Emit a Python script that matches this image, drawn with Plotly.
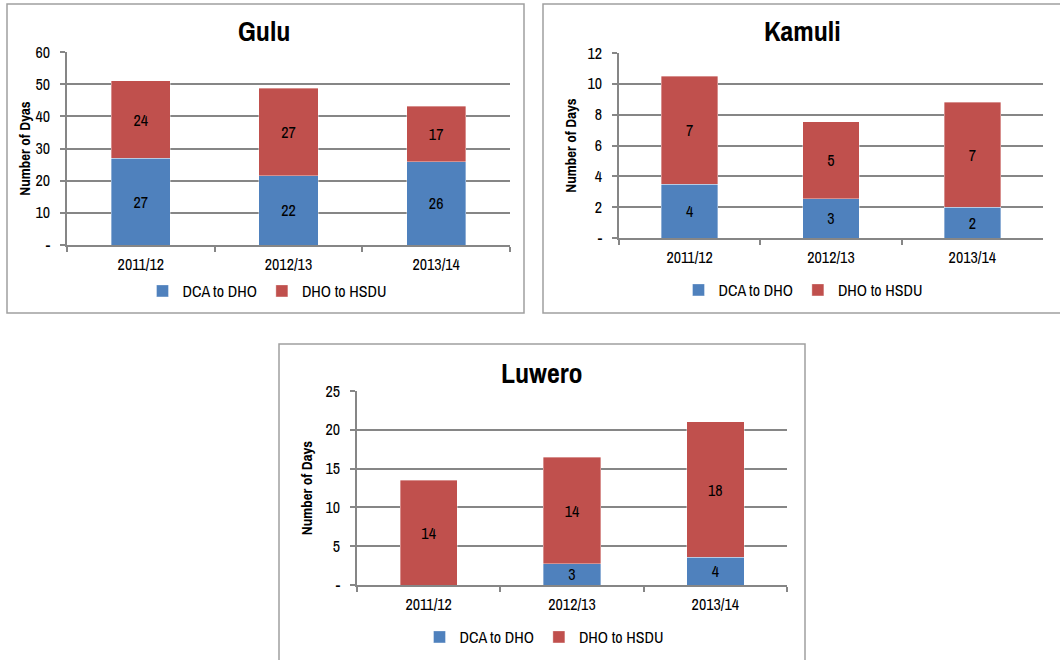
import plotly.graph_objects as go

# ---- data ----
years = ["2011/12", "2012/13", "2013/14"]

gulu_dca = [26.9, 21.6, 25.9]
gulu_dho = [24.1, 27.2, 17.3]

kamuli_dca = [3.5, 2.55, 2.0]
kamuli_dho = [7.0, 5.0, 6.8]

luwero_dca = [0.0, 2.75, 3.55]
luwero_dho = [13.5, 13.7, 17.5]

series_names = ["DCA to DHO", "DHO to HSDU"]
colors = ["#4F81BD", "#C0504D"]

gulu_ticks = [0, 10, 20, 30, 40, 50, 60]
kamuli_ticks = [0, 2, 4, 6, 8, 10, 12]
luwero_ticks = [0, 5, 10, 15, 20, 25]

FONT = ("Liberation Sans Narrow, Arial Narrow, Archivo Narrow, PT Sans Narrow, "
        "Roboto Condensed, Liberation Sans, Arial, sans-serif")
W, H = 1060, 660
FS = 16


def px(x):
    return x / W


def py(y):
    return 1 - y / H


def lab(v):
    return [str(int(x + 0.5)) if x > 0 else "" for x in v]


fig = go.Figure()

panels = [
    ("Gulu", gulu_dca, gulu_dho, gulu_ticks, "", "legend", (67, 510), (52, 245), "Number of Dyas", 0),
    ("Kamuli", kamuli_dca, kamuli_dho, kamuli_ticks, "2", "legend2", (619, 1043), (53, 238), "Number of Days", 7),
    ("Luwero", luwero_dca, luwero_dho, luwero_ticks, "3", "legend3", (357, 787), (391, 585), "Number of Days", 9),
]

for name, dca, dho, ticks, sfx, leg, xd, yd, ytitle, stand in panels:
    for sname, vals, col in zip(series_names, [dca, dho], colors):
        fig.add_trace(go.Bar(
            x=years, y=vals, name=sname,
            marker=dict(color=col, line=dict(width=0.6, color="rgba(255,255,255,0.6)")),
            text=lab(vals), textposition="inside", insidetextanchor="middle",
            textangle=0, constraintext="none",
            textfont=dict(family=FONT, size=FS, color="#000000"),
            xaxis="x" + sfx, yaxis="y" + sfx, legend=leg,
            hoverinfo="x+y+name",
        ))
    fig.layout["xaxis" + sfx] = dict(
        domain=[px(xd[0]), px(xd[1])], anchor="y" + sfx,
        type="category", tickson="boundaries", ticks="outside", ticklen=5,
        tickcolor="#868686", tickwidth=1.5, ticklabelstandoff=4,
        showline=True, linecolor="#868686", linewidth=1.5,
        showgrid=False, tickfont=dict(family=FONT, size=FS, color="#000"),
        fixedrange=True, automargin=False,
    )
    fig.layout["yaxis" + sfx] = dict(
        domain=[py(yd[1]), py(yd[0])], anchor="x" + sfx,
        range=[0, ticks[-1]], tickvals=ticks,
        ticktext=["-"] + [str(t) for t in ticks[1:]],
        ticks="outside", ticklen=5, tickcolor="#868686", tickwidth=1.5,
        ticklabelstandoff=7,
        showline=True, linecolor="#868686", linewidth=1.5,
        showgrid=True, gridcolor="#868686", gridwidth=1.5,
        zeroline=False,
        tickfont=dict(family=FONT, size=FS, color="#000"),
        title=dict(text=ytitle, font=dict(family=FONT, size=15, color="#000", weight="bold"), standoff=stand),
        fixedrange=True, automargin=False,
    )

legend_common = dict(
    orientation="h", xanchor="center", yanchor="middle",
    font=dict(family=FONT, size=FS, color="#000"),
    bgcolor="rgba(0,0,0,0)", traceorder="normal", itemclick=False,
    itemwidth=30,
)
fig.update_layout(
    legend=dict(x=px(267), y=py(291), **legend_common),
    legend2=dict(x=px(803), y=py(290), **legend_common),
    legend3=dict(x=px(544), y=py(637), **legend_common),
)

for text, x, y in [("Gulu", 264, 31), ("Kamuli", 802, 31), ("Luwero", 542, 373)]:
    fig.add_annotation(text="<b>%s</b>" % text, x=px(x), y=py(y), xref="paper", yref="paper",
                       xanchor="center", yanchor="middle", showarrow=False,
                       font=dict(family=FONT, size=28, color="#000"))

for x0, y0, x1, y1 in [(7, 4, 524, 313), (543, 4, 1062, 313), (279, 344, 805, 672)]:
    fig.add_shape(type="rect", xref="paper", yref="paper",
                  x0=px(x0), y0=py(y1), x1=px(x1), y1=py(y0),
                  line=dict(color="#A0A0A0", width=1.5), fillcolor="rgba(0,0,0,0)", layer="below")

fig.update_layout(
    width=W, height=H, margin=dict(l=0, r=0, t=0, b=0, autoexpand=False),
    barmode="stack", bargap=0.6,
    paper_bgcolor="#FFFFFF", plot_bgcolor="#FFFFFF",
    font=dict(family=FONT, color="#000"),
    showlegend=True,
)

fig.write_html("out.html", config={"displayModeBar": False},
               post_script="document.body.style.margin='0';document.body.style.overflow='hidden';")
